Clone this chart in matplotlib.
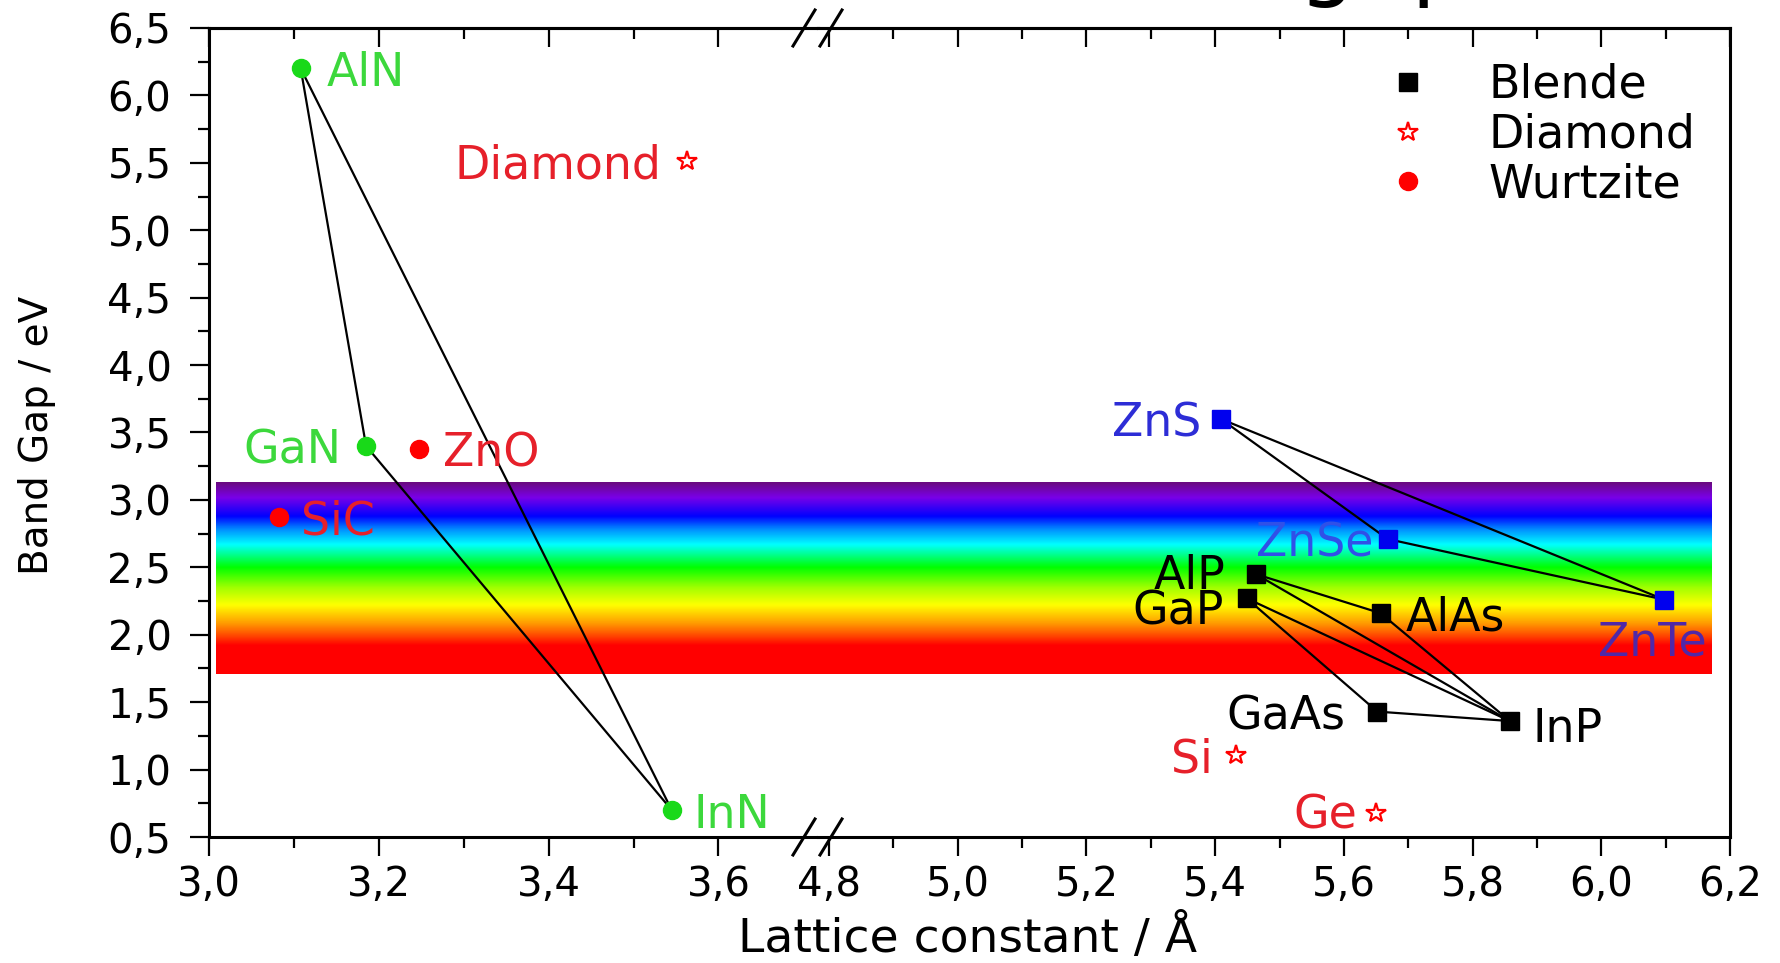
import matplotlib
matplotlib.use("Agg")
import matplotlib.pyplot as plt
import numpy as np
from matplotlib.colors import LinearSegmentedColormap
from matplotlib.lines import Line2D
from matplotlib.ticker import FuncFormatter

plt.rcParams["font.family"] = ["DejaVu Sans"]

# ---- data (lattice constant / A, band gap / eV) ----
wurtzite_names = ["AlN", "GaN", "InN", "ZnO", "SiC"]
wurtzite_a = [3.108, 3.185, 3.545, 3.247, 3.083]
wurtzite_gap = [6.20, 3.40, 0.70, 3.38, 2.87]

diamond_names = ["Diamond", "Si", "Ge"]
diamond_a = [3.563, 5.432, 5.650]
diamond_gap = [5.51, 1.11, 0.68]

blende_names = ["ZnS", "ZnSe", "ZnTe", "AlP", "GaP", "AlAs", "GaAs", "InP"]
blende_a = [5.409, 5.668, 6.098, 5.463, 5.449, 5.657, 5.652, 5.858]
blende_gap = [3.60, 2.71, 2.26, 2.45, 2.27, 2.16, 1.43, 1.36]

# alloy tie lines
ties = [("AlN", "GaN"), ("GaN", "InN"), ("AlN", "InN"),
        ("ZnS", "ZnSe"), ("ZnSe", "ZnTe"), ("ZnS", "ZnTe"),
        ("AlP", "AlAs"), ("AlP", "InP"), ("GaP", "InP"),
        ("GaP", "GaAs"), ("GaAs", "InP"), ("AlAs", "InP")]

# visible-light band (eV) and its colour stops
band_lo, band_hi = 1.71, 3.13
band_ev = [1.71, 1.92, 2.00, 2.09, 2.22, 2.35, 2.50, 2.67, 2.78, 2.88, 3.02, 3.13]
band_col = ["#ff0000", "#ff0000", "#ff5000", "#ffa000", "#ffff00", "#a0ff00",
            "#00ff00", "#00ffff", "#0090ff", "#0000ff", "#7a00e8", "#6a0a80"]

legend_labels = ["Blende", "Diamond", "Wurtzite"]

# ---- style ----
GREEN_M, GREEN_T = "#19d919", "#3cd83c"
RED_M, RED_T = "#ff0000", "#e6202a"
BLUE_M = "#0000ee"
marker_color = {"AlN": GREEN_M, "GaN": GREEN_M, "InN": GREEN_M,
                "ZnO": RED_M, "SiC": RED_M,
                "ZnS": BLUE_M, "ZnSe": BLUE_M, "ZnTe": BLUE_M}
text_color = {"AlN": GREEN_T, "GaN": GREEN_T, "InN": GREEN_T,
              "ZnO": RED_T, "SiC": RED_T, "Diamond": RED_T, "Si": RED_T, "Ge": RED_T,
              "ZnS": "#2d2dd6", "ZnSe": "#3050e8", "ZnTe": "#5028a8"}
# label offsets in pixels (dx, dy) and horizontal alignment
label_pos = {"AlN": (26, 0, "left"), "GaN": (-25, 0, "right"), "InN": (22, 0, "left"),
             "ZnO": (24, 0, "left"), "SiC": (22, 0, "left"), "Diamond": (-26, 0, "right"),
             "Si": (-23, 0, "right"), "Ge": (-19, 2, "right"),
             "ZnS": (-20, 0, "right"), "ZnSe": (-14, 0, "right"), "ZnTe": (-12, -38, "center"),
             "AlP": (-30, 3, "right"), "GaP": (-23, -9, "right"), "AlAs": (25, 0, "left"),
             "GaAs": (-32, 0, "right"), "InP": (23, -3, "left")}
MS_CIRCLE, MS_SQUARE, MS_STAR = 13, 13.5, 15

W, H = 1781, 963
L, R, SPLIT, T, B = 209, 1730, 818, 28, 837

fig = plt.figure(figsize=(W / 100, H / 100), dpi=100)
axL = fig.add_axes([L / W, 1 - B / H, (SPLIT - L) / W, (B - T) / H])
axR = fig.add_axes([SPLIT / W, 1 - B / H, (R - SPLIT) / W, (B - T) / H], sharey=axL)

xlims = {axL: (3.0, 3.7173), axR: (4.7829, 6.2)}
band_x = {axL: (3.008, 3.75), axR: (4.75, 6.171)}

cmap = LinearSegmentedColormap.from_list(
    "vis", [((e - band_lo) / (band_hi - band_lo), c) for e, c in zip(band_ev, band_col)])
grad = np.linspace(band_lo, band_hi, 400).reshape(-1, 1)

pos = {}
for n, a, g in zip(wurtzite_names + diamond_names + blende_names,
                   wurtzite_a + diamond_a + blende_a,
                   wurtzite_gap + diamond_gap + blende_gap):
    pos[n] = (a, g)

fmt = FuncFormatter(lambda v, p: f"{v:.1f}".replace(".", ","))

for ax in (axL, axR):
    x0, x1 = band_x[ax]
    ax.imshow(grad, cmap=cmap, extent=[x0, x1, band_lo, band_hi], origin="lower",
              aspect="auto", interpolation="bilinear", zorder=0,
              vmin=band_lo, vmax=band_hi)
    lo, hi = xlims[ax]
    for p, q in ties:
        if lo <= pos[p][0] <= hi:
            ax.plot([pos[p][0], pos[q][0]], [pos[p][1], pos[q][1]],
                    color="black", lw=1.6, zorder=2)
    for n, a, g in zip(wurtzite_names, wurtzite_a, wurtzite_gap):
        ax.plot(a, g, "o", ms=MS_CIRCLE, color=marker_color[n], mec=marker_color[n], zorder=3)
    for n, a, g in zip(blende_names, blende_a, blende_gap):
        c = marker_color.get(n, "black")
        ax.plot(a, g, "s", ms=MS_SQUARE, color=c, mec=c, zorder=3)
    for n, a, g in zip(diamond_names, diamond_a, diamond_gap):
        ax.plot(a, g, "*", ms=MS_STAR, mfc="white", mec=RED_M, mew=1.6, zorder=3)
    for n, (a, g) in pos.items():
        if not (lo <= a <= hi):
            continue
        dx, dy, ha = label_pos[n]
        ax.annotate(n, (a, g), xytext=(dx, dy), textcoords="offset pixels",
                    ha=ha, va="center_baseline", fontsize=33,
                    color=text_color.get(n, "black"), zorder=4)
    ax.set_xlim(lo, hi)
    ax.set_ylim(0.5, 6.5)
    ax.xaxis.set_major_formatter(fmt)
    for s in ax.spines.values():
        s.set_linewidth(2.2)
    ax.tick_params(axis="x", which="both", direction="out", top=False, width=1.6,
                   labelsize=29, pad=6)
    ax.tick_params(axis="x", which="major", length=14)
    ax.tick_params(axis="x", which="minor", length=8)

axL.set_xticks([3.0, 3.2, 3.4, 3.6])
axL.set_xticks([3.1, 3.3, 3.5], minor=True)
axR.set_xticks([4.8, 5.0, 5.2, 5.4, 5.6, 5.8, 6.0, 6.2])
axR.set_xticks([4.9, 5.1, 5.3, 5.5, 5.7, 5.9, 6.1], minor=True)

axL.set_yticks(np.arange(0.5, 6.51, 0.5))
axL.set_yticks(np.arange(0.75, 6.5, 0.5), minor=True)
axL.yaxis.set_major_formatter(fmt)
axL.tick_params(axis="y", which="both", direction="out", width=1.6, labelsize=29, pad=13)
axL.tick_params(axis="y", which="major", length=14)
axL.tick_params(axis="y", which="minor", length=8)
axL.spines["right"].set_visible(False)
axR.spines["left"].set_visible(False)
axR.tick_params(axis="y", which="both", left=False, right=False, labelleft=False)

# inward ticks along the top
for ax in (axL, axR):
    top = ax.secondary_xaxis("top")
    top.set_xticks(ax.get_xticks())
    top.set_xticks(ax.get_xticks(minor=True), minor=True)
    top.tick_params(which="both", direction="in", labeltop=False, width=1.6)
    top.tick_params(which="major", length=14)
    top.tick_params(which="minor", length=8)
    top.spines["top"].set_linewidth(2.2)

# axis-break marks
for py in (T, B):
    for xc in (804, 831):
        fig.add_artist(Line2D([(xc - 11) / W, (xc + 11) / W],
                              [1 - (py + 18) / H, 1 - (py - 18) / H],
                              color="black", lw=2.2))

# legend
handles = [Line2D([], [], marker="s", ls="none", ms=MS_SQUARE, color="black"),
           Line2D([], [], marker="*", ls="none", ms=MS_STAR, mfc="white", mec=RED_M, mew=1.6),
           Line2D([], [], marker="o", ls="none", ms=MS_CIRCLE, color=RED_M)]
axR.legend(handles, legend_labels, loc="upper left", bbox_to_anchor=(1385 / W, 1 - 63 / H),
           bbox_transform=fig.transFigure, frameon=False, fontsize=33,
           handlelength=1.0, handletextpad=1.25, borderpad=0, borderaxespad=0,
           labelspacing=0.1)

fig.text(37 / W, 1 - 435 / H, "Band Gap / eV", rotation=90, ha="center", va="center",
         fontsize=28)
fig.text(968 / W, 1 - 938 / H, "Lattice constant / Å", ha="center", va="center",
         fontsize=34)
# title cut off by the top edge of the image
fig.text(1469 / W, 1 + 11 / H, "Band gap", ha="right", va="baseline", fontsize=65)

fig.savefig("out.png", dpi=100)
